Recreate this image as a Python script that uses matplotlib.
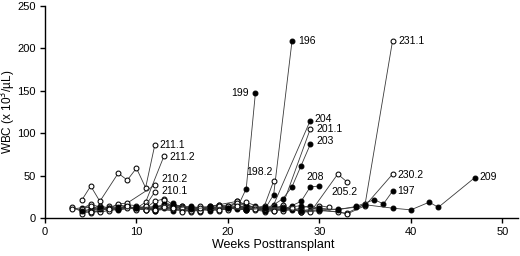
import matplotlib
matplotlib.use("Agg")
import matplotlib.pyplot as plt

plt.rcParams['font.family'] = ['Liberation Sans', 'DejaVu Sans']

# labelled patients: weeks and WBC values
w_211_1 = [4, 5, 6, 8, 9, 10, 11, 12]
v_211_1 = [21, 38, 20, 53, 45, 59, 36, 86]
w_211_2 = [3, 4, 5, 6, 7, 8, 9, 10, 11, 13]
v_211_2 = [13, 8, 11, 15, 12, 16, 14, 12, 19, 73]
w_210_2 = [4, 5, 6, 7, 8, 9, 12]
v_210_2 = [11, 17, 13, 12, 17, 18, 39]
w_210_1 = [4, 5, 6, 8, 9, 10, 11, 12]
v_210_1 = [5, 9, 7, 12, 13, 10, 15, 31]
w_199 = [5, 6, 7, 9, 11, 13, 15, 17, 19, 21, 22, 23]
v_199 = [10, 12, 11, 13, 10, 12, 9, 11, 13, 12, 35, 147]
w_196 = [4, 6, 8, 10, 12, 14, 16, 18, 20, 22, 24, 25, 27]
v_196 = [9, 11, 13, 12, 10, 14, 12, 9, 11, 13, 10, 28, 208]
w_198_2 = [3, 5, 7, 9, 11, 13, 15, 17, 19, 21, 23, 24, 25]
v_198_2 = [11, 14, 9, 12, 10, 15, 13, 11, 16, 20, 12, 15, 44]
w_204 = [6, 8, 10, 12, 14, 16, 18, 20, 22, 24, 25, 29]
v_204 = [12, 10, 13, 11, 9, 12, 14, 12, 10, 11, 16, 115]
w_201_1 = [5, 7, 9, 11, 13, 15, 17, 19, 21, 23, 25, 26, 29]
v_201_1 = [8, 11, 14, 10, 13, 12, 9, 14, 18, 13, 10, 16, 105]
w_203 = [8, 10, 12, 14, 16, 18, 20, 22, 24, 26, 27, 28, 29]
v_203 = [11, 12, 14, 16, 13, 11, 13, 12, 9, 23, 37, 62, 87]
w_208 = [10, 12, 14, 16, 18, 20, 22, 24, 26, 27, 28, 29, 30]
v_208 = [13, 9, 12, 14, 11, 12, 15, 11, 10, 15, 20, 37, 38]
w_205_2 = [12, 14, 16, 18, 20, 22, 24, 26, 28, 29, 32, 33]
v_205_2 = [10, 11, 8, 12, 14, 10, 12, 9, 11, 7, 52, 43]
w_231_1 = [14, 16, 18, 20, 22, 24, 26, 28, 30, 33, 35, 38]
v_231_1 = [12, 9, 13, 10, 19, 11, 13, 8, 10, 6, 17, 209]
w_230_2 = [15, 17, 19, 21, 23, 25, 27, 28, 30, 32, 33, 35, 38]
v_230_2 = [8, 12, 10, 15, 11, 9, 12, 7, 9, 8, 5, 15, 52]
w_197 = [16, 18, 20, 22, 24, 26, 28, 30, 32, 34, 36, 37, 38]
v_197 = [11, 13, 12, 10, 12, 11, 9, 12, 10, 14, 22, 17, 32]
w_209 = [20, 22, 24, 26, 28, 30, 32, 34, 35, 38, 40, 42, 43, 47]
v_209 = [12, 11, 13, 12, 15, 10, 11, 13, 16, 12, 10, 19, 13, 48]

# unlabelled patients in the low cluster
w_b1 = [3, 4, 5, 6, 7, 8, 9, 10, 11, 12, 13, 14, 15]
v_b1 = [12, 10, 6, 9, 14, 11, 16, 15, 12, 20, 23, 16, 14]
w_b2 = [4, 5, 6, 7, 8, 9, 10, 11, 12, 13, 14, 15, 16, 17]
v_b2 = [12, 13, 10, 11, 12, 14, 11, 13, 9, 14, 18, 12, 11, 13]
w_b3 = [13, 14, 15, 16, 17, 18, 19, 20, 21, 22, 23, 24]
v_b3 = [21, 13, 15, 10, 8, 14, 16, 12, 20, 16, 12, 10]
w_b4 = [10, 11, 12, 13, 14, 15, 16, 17, 18, 19, 20, 21, 22]
v_b4 = [11, 14, 12, 17, 13, 12, 10, 9, 12, 14, 13, 11, 12]
w_b5 = [17, 18, 19, 20, 21, 22, 23, 24, 25, 26, 27, 28, 29, 30, 31]
v_b5 = [14, 12, 9, 14, 17, 11, 10, 8, 9, 12, 11, 8, 9, 15, 13]
w_b6 = [21, 22, 23, 24, 25, 26, 27, 28, 29, 30]
v_b6 = [13, 12, 14, 11, 13, 14, 10, 12, 15, 11]

background = [
    (w_b1, v_b1, False), (w_b2, v_b2, True), (w_b3, v_b3, False),
    (w_b4, v_b4, True), (w_b5, v_b5, False), (w_b6, v_b6, True),
]

# label, weeks, values, filled, text offset in px (dx, dy), ha
labelled = [
    ("211.1", w_211_1, v_211_1, False, (5, 0), 'left'),
    ("211.2", w_211_2, v_211_2, False, (6, -1), 'left'),
    ("210.2", w_210_2, v_210_2, False, (7, 6), 'left'),
    ("210.1", w_210_1, v_210_1, False, (7, 1), 'left'),
    ("199", w_199, v_199, True, (-7, 0), 'right'),
    ("196", w_196, v_196, True, (6, 0), 'left'),
    ("198.2", w_198_2, v_198_2, False, (-1, 9), 'right'),
    ("204", w_204, v_204, True, (4, 2), 'left'),
    ("201.1", w_201_1, v_201_1, False, (6, 0), 'left'),
    ("203", w_203, v_203, True, (6, 3), 'left'),
    ("208", w_208, v_208, True, (-4, 9), 'center'),
    ("205.2", w_205_2, v_205_2, False, (-2, -10), 'center'),
    ("231.1", w_231_1, v_231_1, False, (6, 0), 'left'),
    ("230.2", w_230_2, v_230_2, False, (5, -1), 'left'),
    ("197", w_197, v_197, True, (5, 0), 'left'),
    ("209", w_209, v_209, True, (5, 1), 'left'),
]

fig = plt.figure(figsize=(5.2, 2.56), dpi=100)
ax = fig.add_axes([0.0865, 0.147, 0.9095, 0.831])

def draw(w, v, filled):
    ax.plot(w, v, color='#3a3a3a', lw=0.6, marker='o', ms=3.5, mew=0.75,
            mec='black', mfc='black' if filled else 'white', zorder=3)

for w, v, filled in background:
    draw(w, v, filled)

px2pt = 72 / 100
for lab, w, v, filled, (dx, dy), ha in labelled:
    draw(w, v, filled)
    ax.annotate(lab, (w[-1], v[-1]), xytext=(dx * px2pt, dy * px2pt),
                textcoords='offset points', ha=ha, va='center', fontsize=7.5)

ax.set_xlim(0, 51.7)
ax.set_ylim(0, 250)
ax.set_xticks([0, 10, 20, 30, 40, 50])
ax.set_yticks([0, 50, 100, 150, 200, 250])
ax.spines['top'].set_visible(False)
ax.spines['right'].set_visible(False)
for s in ['left', 'bottom']:
    ax.spines[s].set_linewidth(1.0)
ax.tick_params(direction='out', length=3.5, width=1.0, labelsize=8, pad=3)
ax.set_xlabel('Weeks Posttransplant', fontsize=9)
ax.xaxis.set_label_coords(0.483, -0.095)
ax.set_ylabel('WBC (x 10$^3$/µL)', fontsize=8.5)
ax.yaxis.set_label_coords(-0.056, 0.5)

fig.savefig('out.png', dpi=100)
